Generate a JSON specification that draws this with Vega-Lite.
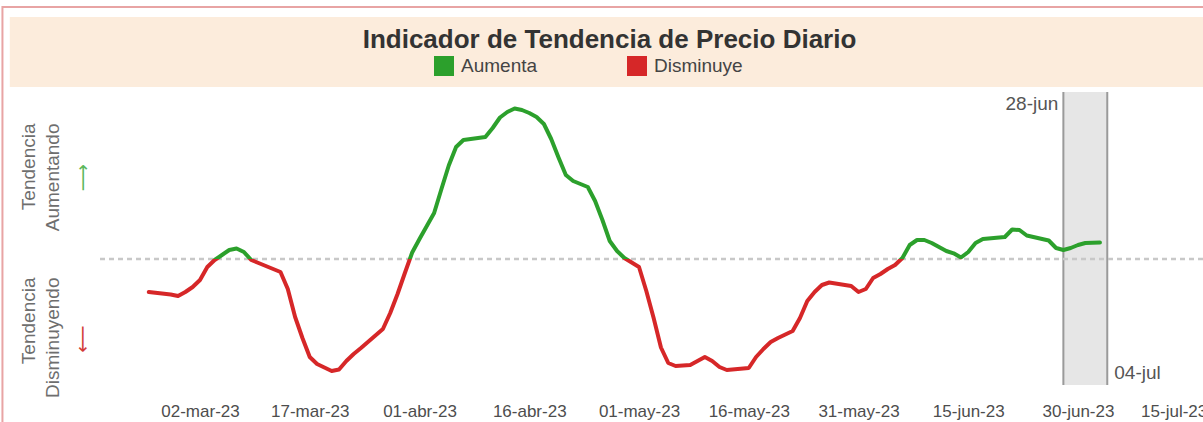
{
  "$schema": "https://vega.github.io/schema/vega-lite/v6.json",
  "width": 1105,
  "height": 293,
  "autosize": {"type": "none"},
  "padding": {"left": 98, "top": 92, "right": 0, "bottom": 37},
  "background": "white",
  "config": {"view": {"stroke": null}, "font": "Liberation Sans"},
  "title": {
    "text": "Indicador de Tendencia de Precio Diario",
    "anchor": "middle",
    "frame": "group",
    "dx": -41,
    "offset": -68,
    "baseline": "alphabetic",
    "fontSize": 26,
    "font": "Liberation Sans",
    "fontWeight": "bold",
    "color": "#333333"
  },
  "datasets": {
    "serie": [
      {"fecha": "2023-02-23", "indice": -0.33},
      {"fecha": "2023-02-26", "indice": -0.355},
      {"fecha": "2023-02-27", "indice": -0.37},
      {"fecha": "2023-02-28", "indice": -0.33},
      {"fecha": "2023-03-01", "indice": -0.28},
      {"fecha": "2023-03-02", "indice": -0.21},
      {"fecha": "2023-03-03", "indice": -0.08},
      {"fecha": "2023-03-04", "indice": -0.01},
      {"fecha": "2023-03-05", "indice": 0.04},
      {"fecha": "2023-03-06", "indice": 0.09},
      {"fecha": "2023-03-07", "indice": 0.105},
      {"fecha": "2023-03-08", "indice": 0.07},
      {"fecha": "2023-03-09", "indice": -0.01},
      {"fecha": "2023-03-10", "indice": -0.04},
      {"fecha": "2023-03-13", "indice": -0.13},
      {"fecha": "2023-03-14", "indice": -0.30},
      {"fecha": "2023-03-15", "indice": -0.58},
      {"fecha": "2023-03-16", "indice": -0.79},
      {"fecha": "2023-03-17", "indice": -0.98},
      {"fecha": "2023-03-18", "indice": -1.05},
      {"fecha": "2023-03-20", "indice": -1.12},
      {"fecha": "2023-03-21", "indice": -1.105},
      {"fecha": "2023-03-22", "indice": -1.02},
      {"fecha": "2023-03-23", "indice": -0.95},
      {"fecha": "2023-03-24", "indice": -0.89},
      {"fecha": "2023-03-27", "indice": -0.70},
      {"fecha": "2023-03-28", "indice": -0.54},
      {"fecha": "2023-03-29", "indice": -0.35},
      {"fecha": "2023-03-30", "indice": -0.14},
      {"fecha": "2023-03-31", "indice": 0.065},
      {"fecha": "2023-04-01", "indice": 0.20},
      {"fecha": "2023-04-02", "indice": 0.33},
      {"fecha": "2023-04-03", "indice": 0.46},
      {"fecha": "2023-04-04", "indice": 0.70},
      {"fecha": "2023-04-05", "indice": 0.935},
      {"fecha": "2023-04-06", "indice": 1.12},
      {"fecha": "2023-04-07", "indice": 1.19},
      {"fecha": "2023-04-09", "indice": 1.21},
      {"fecha": "2023-04-10", "indice": 1.22},
      {"fecha": "2023-04-11", "indice": 1.31},
      {"fecha": "2023-04-12", "indice": 1.415},
      {"fecha": "2023-04-13", "indice": 1.47},
      {"fecha": "2023-04-14", "indice": 1.505},
      {"fecha": "2023-04-15", "indice": 1.49},
      {"fecha": "2023-04-16", "indice": 1.46},
      {"fecha": "2023-04-17", "indice": 1.42},
      {"fecha": "2023-04-18", "indice": 1.35},
      {"fecha": "2023-04-19", "indice": 1.20},
      {"fecha": "2023-04-20", "indice": 1.015},
      {"fecha": "2023-04-21", "indice": 0.84},
      {"fecha": "2023-04-22", "indice": 0.78},
      {"fecha": "2023-04-23", "indice": 0.75},
      {"fecha": "2023-04-24", "indice": 0.72},
      {"fecha": "2023-04-25", "indice": 0.58},
      {"fecha": "2023-04-26", "indice": 0.39},
      {"fecha": "2023-04-27", "indice": 0.18},
      {"fecha": "2023-04-28", "indice": 0.08},
      {"fecha": "2023-04-29", "indice": 0.01},
      {"fecha": "2023-04-30", "indice": -0.035},
      {"fecha": "2023-05-01", "indice": -0.08},
      {"fecha": "2023-05-02", "indice": -0.32},
      {"fecha": "2023-05-03", "indice": -0.59},
      {"fecha": "2023-05-04", "indice": -0.885},
      {"fecha": "2023-05-05", "indice": -1.04},
      {"fecha": "2023-05-06", "indice": -1.07},
      {"fecha": "2023-05-08", "indice": -1.06},
      {"fecha": "2023-05-09", "indice": -1.02},
      {"fecha": "2023-05-10", "indice": -0.98},
      {"fecha": "2023-05-11", "indice": -1.02},
      {"fecha": "2023-05-12", "indice": -1.08},
      {"fecha": "2023-05-13", "indice": -1.11},
      {"fecha": "2023-05-16", "indice": -1.09},
      {"fecha": "2023-05-17", "indice": -0.98},
      {"fecha": "2023-05-18", "indice": -0.90},
      {"fecha": "2023-05-19", "indice": -0.83},
      {"fecha": "2023-05-20", "indice": -0.79},
      {"fecha": "2023-05-22", "indice": -0.72},
      {"fecha": "2023-05-23", "indice": -0.59},
      {"fecha": "2023-05-24", "indice": -0.42},
      {"fecha": "2023-05-25", "indice": -0.33},
      {"fecha": "2023-05-26", "indice": -0.26},
      {"fecha": "2023-05-27", "indice": -0.235},
      {"fecha": "2023-05-30", "indice": -0.27},
      {"fecha": "2023-05-31", "indice": -0.33},
      {"fecha": "2023-06-01", "indice": -0.30},
      {"fecha": "2023-06-02", "indice": -0.19},
      {"fecha": "2023-06-03", "indice": -0.15},
      {"fecha": "2023-06-04", "indice": -0.10},
      {"fecha": "2023-06-05", "indice": -0.06},
      {"fecha": "2023-06-06", "indice": 0.01},
      {"fecha": "2023-06-07", "indice": 0.14},
      {"fecha": "2023-06-08", "indice": 0.19},
      {"fecha": "2023-06-09", "indice": 0.19},
      {"fecha": "2023-06-10", "indice": 0.16},
      {"fecha": "2023-06-11", "indice": 0.12},
      {"fecha": "2023-06-12", "indice": 0.08},
      {"fecha": "2023-06-13", "indice": 0.057},
      {"fecha": "2023-06-14", "indice": 0.015},
      {"fecha": "2023-06-15", "indice": 0.07},
      {"fecha": "2023-06-16", "indice": 0.16},
      {"fecha": "2023-06-17", "indice": 0.20},
      {"fecha": "2023-06-20", "indice": 0.22},
      {"fecha": "2023-06-21", "indice": 0.295},
      {"fecha": "2023-06-22", "indice": 0.29},
      {"fecha": "2023-06-23", "indice": 0.235},
      {"fecha": "2023-06-26", "indice": 0.185},
      {"fecha": "2023-06-27", "indice": 0.11},
      {"fecha": "2023-06-28", "indice": 0.09},
      {"fecha": "2023-06-29", "indice": 0.11},
      {"fecha": "2023-06-30", "indice": 0.14},
      {"fecha": "2023-07-01", "indice": 0.16},
      {"fecha": "2023-07-03", "indice": 0.165}
    ],
    "ventana": [
      {"inicio": "2023-06-28", "fin": "2023-07-04", "etiqueta_inicio": "28-jun", "etiqueta_fin": "04-jul"}
    ],
    "tendencias": [
      {"tendencia": "Aumenta", "flecha": "⟶"},
      {"tendencia": "Disminuye", "flecha": "⟶"}
    ]
  },
  "layer": [
    {
      "data": {"name": "ventana"},
      "mark": {"type": "rect", "fill": null, "stroke": "#e8a4a4", "strokeWidth": 2, "clip": false},
      "encoding": {
        "x": {"datum": {"year": 2023, "month": 2, "date": 3, "utc": true}, "type": "temporal"},
        "x2": {"datum": {"year": 2023, "month": 7, "date": 30, "utc": true}},
        "y": {"datum": 2.52, "type": "quantitative"},
        "y2": {"datum": -1.9}
      }
    },
    {
      "data": {"name": "ventana"},
      "mark": {"type": "rect", "fill": "#fcecdc", "clip": false},
      "encoding": {
        "x": {"datum": {"year": 2023, "month": 2, "date": 4, "utc": true}, "type": "temporal"},
        "x2": {"datum": {"year": 2023, "month": 7, "date": 30, "utc": true}},
        "y": {"datum": 2.42, "type": "quantitative"},
        "y2": {"datum": 1.72}
      }
    },
    {
      "data": {"name": "ventana"},
      "mark": {"type": "rect", "fill": "#e6e6e6"},
      "encoding": {
        "x": {"field": "inicio", "type": "temporal"},
        "x2": {"field": "fin"}
      }
    },
    {
      "data": {"name": "ventana"},
      "mark": {"type": "rule", "color": "#9a9a9a", "strokeWidth": 2},
      "encoding": {"x": {"field": "inicio", "type": "temporal"}}
    },
    {
      "data": {"name": "ventana"},
      "mark": {"type": "rule", "color": "#9a9a9a", "strokeWidth": 2},
      "encoding": {"x": {"field": "fin", "type": "temporal"}}
    },
    {
      "data": {"name": "ventana"},
      "mark": {"type": "rule", "color": "#c8c8c8", "strokeWidth": 2.5, "strokeDash": [5, 4]},
      "encoding": {"y": {"datum": 0, "type": "quantitative"}}
    },
    {
      "data": {"name": "serie"},
      "mark": {
        "type": "line",
        "strokeWidth": 4,
        "strokeJoin": "round",
        "strokeCap": "round",
        "stroke": {
          "gradient": "linear",
          "x1": 0, "y1": 0, "x2": 0, "y2": 1,
          "stops": [
            {"offset": 0, "color": "#2ca02c"},
            {"offset": 0.5733, "color": "#2ca02c"},
            {"offset": 0.5733, "color": "#d62728"},
            {"offset": 1, "color": "#d62728"}
          ]
        }
      },
      "encoding": {
        "x": {
          "field": "fecha",
          "type": "temporal",
          "scale": {
            "type": "utc",
            "domain": [
              {"year": 2023, "month": 2, "date": 16, "hours": 1, "minutes": 26, "utc": true},
              {"year": 2023, "month": 7, "date": 17, "hours": 2, "utc": true}
            ],
            "nice": false
          },
          "axis": {
            "title": null,
            "values": [
              {"year": 2023, "month": 3, "date": 2, "utc": true},
              {"year": 2023, "month": 3, "date": 17, "utc": true},
              {"year": 2023, "month": 4, "date": 1, "utc": true},
              {"year": 2023, "month": 4, "date": 16, "utc": true},
              {"year": 2023, "month": 5, "date": 1, "utc": true},
              {"year": 2023, "month": 5, "date": 16, "utc": true},
              {"year": 2023, "month": 5, "date": 31, "utc": true},
              {"year": 2023, "month": 6, "date": 15, "utc": true},
              {"year": 2023, "month": 6, "date": 30, "utc": true},
              {"year": 2023, "month": 7, "date": 15, "utc": true}
            ],
            "labelExpr": "utcFormat(datum.value, '%d') + '-' + ['ene','feb','mar','abr','may','jun','jul','ago','sep','oct','nov','dic'][utcmonth(datum.value)] + '-' + utcFormat(datum.value, '%y')",
            "domain": false,
            "ticks": false,
            "grid": false,
            "labelFontSize": 17,
            "labelFont": "Liberation Sans",
            "labelColor": "#4d4d4d",
            "labelPadding": 18,
            "labelFlush": 20,
            "labelFlushOffset": 19,
            "labelOverlap": false
          }
        },
        "y": {
          "field": "indice",
          "type": "quantitative",
          "scale": {"domain": [-1.26, 1.67], "nice": false, "zero": false},
          "axis": {
            "title": null,
            "values": [1.36, -0.18],
            "labelExpr": "datum.value > 0 ? ['Tendencia', 'Aumentando'] : ['Tendencia', 'Disminuyendo']",
            "labelAngle": -90,
            "labelAlign": "right",
            "labelBaseline": "middle",
            "labelLineHeight": 24,
            "labelPadding": 70,
            "labelFontSize": 19,
            "labelFont": "Liberation Sans",
            "labelColor": "#6e6e6e",
            "labelOverlap": false,
            "labelFlush": false,
            "domain": false,
            "ticks": false,
            "grid": false
          }
        }
      }
    },
    {
      "data": {"name": "ventana"},
      "mark": {"type": "text", "align": "right", "baseline": "middle", "dx": -5, "fontSize": 19, "font": "Liberation Sans", "color": "#555555"},
      "encoding": {
        "x": {"field": "inicio", "type": "temporal"},
        "y": {"datum": 1.55, "type": "quantitative"},
        "text": {"field": "etiqueta_inicio"}
      }
    },
    {
      "data": {"name": "ventana"},
      "mark": {"type": "text", "align": "left", "baseline": "middle", "dx": 7, "fontSize": 19, "font": "Liberation Sans", "color": "#555555"},
      "encoding": {
        "x": {"field": "fin", "type": "temporal"},
        "y": {"datum": -1.14, "type": "quantitative"},
        "text": {"field": "etiqueta_fin"}
      }
    },
    {
      "data": {"name": "tendencias"},
      "transform": [{"filter": "datum.tendencia === 'Aumenta'"}],
      "mark": {"type": "text", "align": "center", "baseline": "middle", "angle": 270, "fontSize": 19, "font": "DejaVu Sans", "color": "#5cb85c", "clip": false},
      "encoding": {
        "x": {"datum": {"year": 2023, "month": 2, "date": 14, "utc": true}, "type": "temporal"},
        "y": {"datum": 0.815, "type": "quantitative"},
        "text": {"field": "flecha"}
      }
    },
    {
      "data": {"name": "tendencias"},
      "transform": [{"filter": "datum.tendencia === 'Disminuye'"}],
      "mark": {"type": "text", "align": "center", "baseline": "middle", "angle": 90, "fontSize": 19, "font": "DejaVu Sans", "color": "#d23a3a", "clip": false},
      "encoding": {
        "x": {"datum": {"year": 2023, "month": 2, "date": 14, "utc": true}, "type": "temporal"},
        "y": {"datum": -0.80, "type": "quantitative"},
        "text": {"field": "flecha"}
      }
    },
    {
      "data": {"name": "tendencias"},
      "mark": {"type": "point", "filled": true, "shape": "square", "opacity": 0},
      "encoding": {
        "color": {
          "field": "tendencia",
          "type": "nominal",
          "scale": {"domain": ["Aumenta", "Disminuye"], "range": ["#2ca02c", "#d62728"]},
          "legend": {
            "orient": "none",
            "legendX": 336,
            "legendY": -36,
            "direction": "horizontal",
            "title": null,
            "padding": 0,
            "symbolType": "square",
            "symbolSize": 400,
            "symbolStrokeWidth": 0,
            "symbolOpacity": 1,
            "labelFontSize": 19,
            "labelFont": "Liberation Sans",
            "labelColor": "#444444",
            "labelOffset": 7,
            "columnPadding": 89
          }
        }
      }
    }
  ]
}
